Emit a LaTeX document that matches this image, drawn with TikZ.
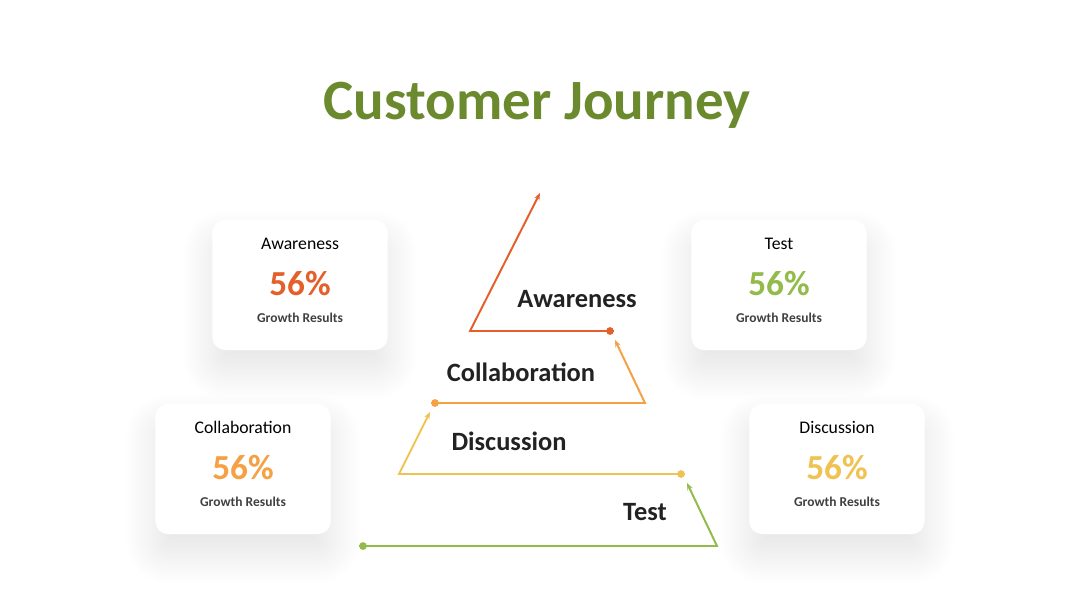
\documentclass[tikz,border=0pt]{standalone}
\usepackage{fontspec}
\setmainfont{Carlito}
\usetikzlibrary{arrows.meta,positioning,shadows.blur}
\definecolor{titlegreen}{RGB}{107,138,46}
\definecolor{aware}{RGB}{227,96,43}
\definecolor{collab}{RGB}{245,160,66}
\definecolor{discuss}{RGB}{240,194,82}
\definecolor{testgreen}{RGB}{146,187,74}
\definecolor{labeltext}{RGB}{34,34,34}
\definecolor{subtext}{RGB}{64,64,64}

\begin{document}
\begin{tikzpicture}[x=0.025cm, y=-0.025cm,
  card/.style={fill=white, rounded corners=9pt, minimum width=4.375cm, minimum height=3.25cm,
    blur shadow={shadow xshift=0pt, shadow yshift=-14pt, shadow blur radius=22pt,
      shadow blur steps=24, shadow opacity=11}},
  cardhead/.style={font=\fontsize{12.6}{15}\selectfont, text=black},
  cardval/.style={font=\fontsize{25}{30}\selectfont\bfseries},
  cardsub/.style={font=\fontsize{9.6}{11}\selectfont\bfseries, text=subtext},
  steplabel/.style={font=\fontsize{18.8}{22}\selectfont\bfseries, text=labeltext},
  dot/.style={circle, inner sep=0pt, minimum size=5.5pt},
  path/.style={line width=1.4pt, -{Stealth[length=5pt, width=4pt]}, shorten <=-2.75pt}
]
  \useasboundingbox (0,0) rectangle (1080,608);

  % title
  \node[font=\fontsize{40.5}{46}\selectfont\bfseries, text=titlegreen] (title) at (537,105) {Customer Journey};

  % cards
  \node[card] (awarecard) at (300,285) {};
  \node[cardhead] (awarehead) at ([yshift=-0.6cm]awarecard.north) {Awareness};
  \node[cardval, text=aware] (awareval) at ([yshift=-1.6cm]awarecard.north) {56\%};
  \node[cardsub] (awaresub) at ([yshift=-2.45cm]awarecard.north) {Growth Results};

  \node[card] (testcard) at (779,285) {};
  \node[cardhead] (testhead) at ([yshift=-0.6cm]testcard.north) {Test};
  \node[cardval, text=testgreen] (testval) at ([yshift=-1.6cm]testcard.north) {56\%};
  \node[cardsub] (testsub) at ([yshift=-2.45cm]testcard.north) {Growth Results};

  \node[card] (collabcard) at (243,469) {};
  \node[cardhead] (collabhead) at ([yshift=-0.6cm]collabcard.north) {Collaboration};
  \node[cardval, text=collab] (collabval) at ([yshift=-1.6cm]collabcard.north) {56\%};
  \node[cardsub] (collabsub) at ([yshift=-2.45cm]collabcard.north) {Growth Results};

  \node[card] (discusscard) at (837,469) {};
  \node[cardhead] (discusshead) at ([yshift=-0.6cm]discusscard.north) {Discussion};
  \node[cardval, text=discuss] (discussval) at ([yshift=-1.6cm]discusscard.north) {56\%};
  \node[cardsub] (discusssub) at ([yshift=-2.45cm]discusscard.north) {Growth Results};

  % zigzag steps
  \node[dot, fill=testgreen] (testdot) at (363,546) {};
  \coordinate (testcorner) at (717,546);
  \coordinate (testtip) at (687,483);
  \draw[path, testgreen] (testdot.center) -- (testcorner) -- (testtip);

  \node[dot, fill=discuss] (discussdot) at (681,474) {};
  \coordinate (discusscorner) at (399,474);
  \coordinate (discusstip) at (430,412);
  \draw[path, discuss] (discussdot.center) -- (discusscorner) -- (discusstip);

  \node[dot, fill=collab] (collabdot) at (435,403) {};
  \coordinate (collabcorner) at (645,403);
  \coordinate (collabtip) at (615,340);
  \draw[path, collab] (collabdot.center) -- (collabcorner) -- (collabtip);

  \node[dot, fill=aware] (awaredot) at (610,331) {};
  \coordinate (awarecorner) at (470,331);
  \coordinate (awaretip) at (540,193);
  \draw[path, aware] (awaredot.center) -- (awarecorner) -- (awaretip);

  % step labels
  \node[steplabel] (awarelabel) at (577,299) {Awareness};
  \node[steplabel] (collablabel) at (521,372) {Collaboration};
  \node[steplabel] (discusslabel) at (509,441) {Discussion};
  \node[steplabel] (testlabel) at (645,512) {Test};
\end{tikzpicture}
\end{document}
